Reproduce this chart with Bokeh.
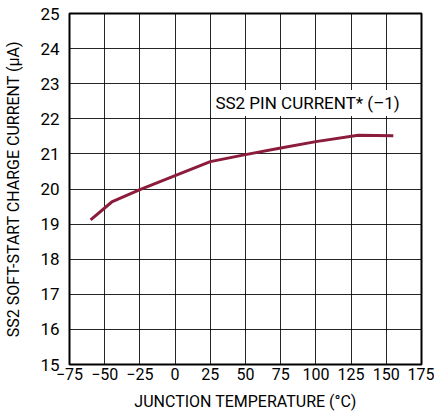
from bokeh.plotting import figure
from bokeh.models import ColumnDataSource, Label, FixedTicker, Range1d
from bokeh.embed import file_html
from bokeh.resources import INLINE

# Data
temperature = [-60, -45, -25, 0, 25, 50, 75, 100, 130, 155]
ss2_current = [19.12, 19.63, 19.98, 20.38, 20.78, 20.98, 21.17, 21.35, 21.53, 21.52]

x_ticks = [-75, -50, -25, 0, 25, 50, 75, 100, 125, 150, 175]
x_tick_labels = ["\u221275", "\u221250", "\u221225", "0", "25", "50", "75", "100", "125", "150", "175"]
y_ticks = [15, 16, 17, 18, 19, 20, 21, 22, 23, 24, 25]
y_tick_labels = [str(v) for v in y_ticks]

annotation = "SS2 PIN CURRENT* (\u20131)"
x_title = "JUNCTION TEMPERATURE (\u00b0C)"
y_title = "SS2 SOFT-START CHARGE CURRENT (\u00b5A)"

FONT = "Roboto"

p = figure(width=434, height=418, output_backend="svg", toolbar_location=None,
           x_range=Range1d(-75, 175), y_range=Range1d(15, 25),
           min_border_left=69, min_border_right=13, min_border_top=13, min_border_bottom=54)

src = ColumnDataSource(dict(t=temperature, i=ss2_current))
p.line("t", "i", source=src, line_color="#8c1c3c", line_width=3)

p.xaxis.ticker = FixedTicker(ticks=x_ticks)
p.yaxis.ticker = FixedTicker(ticks=y_ticks)
p.xaxis.major_label_overrides = {t: l for t, l in zip(x_ticks, x_tick_labels)}
p.yaxis.major_label_overrides = {t: l for t, l in zip(y_ticks, y_tick_labels)}

for ax in (p.xaxis, p.yaxis):
    ax.axis_line_color = None
    ax.major_tick_line_color = None
    ax.minor_tick_line_color = None
    ax.major_tick_out = 0
    ax.major_tick_in = 0
    ax.major_label_text_font = FONT
    ax.major_label_text_color = "black"
    ax.axis_label_text_font = FONT
    ax.axis_label_text_font_size = "16px"
    ax.axis_label_text_font_style = "normal"
    ax.axis_label_text_color = "black"

p.xaxis.major_label_text_font_size = "16px"
p.yaxis.major_label_text_font_size = "17px"
p.xaxis.axis_label = x_title
p.yaxis.axis_label = y_title
p.xaxis.major_label_standoff = 3
p.yaxis.major_label_standoff = 10
p.xaxis.axis_label_standoff = 9
p.yaxis.axis_label_standoff = 14

p.xgrid.ticker = FixedTicker(ticks=x_ticks)
p.ygrid.ticker = FixedTicker(ticks=y_ticks)
for g in (p.xgrid, p.ygrid):
    g.grid_line_color = "black"
    g.grid_line_alpha = 0.85
    g.grid_line_width = 1

p.outline_line_color = "black"
p.outline_line_width = 2
p.background_fill_color = "white"
p.border_fill_color = "white"

lbl = Label(x=26.5, y=22.45, text=annotation, text_font=FONT, text_font_size="17px",
            text_color="black", text_baseline="middle", text_align="left",
            background_fill_color="white", padding=3)
p.add_layout(lbl)

open("out.html", "w").write(file_html(p, INLINE))
